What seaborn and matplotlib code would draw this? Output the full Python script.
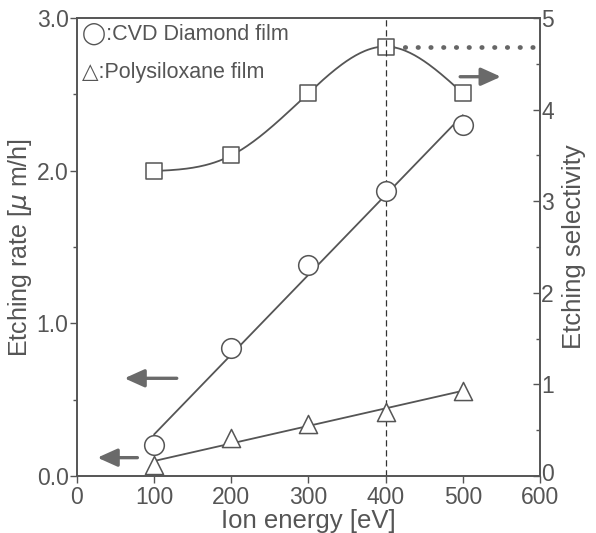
import matplotlib
matplotlib.use("Agg")
import matplotlib.pyplot as plt
import matplotlib.transforms as mtrans
import numpy as np
import pandas as pd
import seaborn as sns

ENERGY = [100, 200, 300, 400, 500]
CVD_RATE = [0.20, 0.84, 1.38, 1.87, 2.30]
POLY_RATE = [0.07, 0.25, 0.34, 0.42, 0.56]
SELECTIVITY = [3.33, 3.50, 4.18, 4.69, 4.18]
PEAK_ENERGY = 400
PEAK_SEL = 4.69

INK = "#555555"
ARROW = "#6a6a6a"


def natural_spline(x, y, xs):
    x = np.asarray(x, float)
    y = np.asarray(y, float)
    n = len(x)
    h = np.diff(x)
    A = np.zeros((n, n))
    b = np.zeros(n)
    A[0, 0] = A[-1, -1] = 1
    for i in range(1, n - 1):
        A[i, i - 1] = h[i - 1]
        A[i, i] = 2 * (h[i - 1] + h[i])
        A[i, i + 1] = h[i]
        b[i] = 6 * ((y[i + 1] - y[i]) / h[i] - (y[i] - y[i - 1]) / h[i - 1])
    m = np.linalg.solve(A, b)
    out = np.empty_like(xs, dtype=float)
    for k, xv in enumerate(xs):
        i = min(np.searchsorted(x, xv) - 1, n - 2)
        i = max(i, 0)
        t0, t1 = x[i + 1] - xv, xv - x[i]
        out[k] = (m[i] * t0 ** 3 + m[i + 1] * t1 ** 3) / (6 * h[i]) \
            + (y[i] / h[i] - m[i] * h[i] / 6) * t0 \
            + (y[i + 1] / h[i] - m[i + 1] * h[i] / 6) * t1
    return out


sns.set_theme(style="ticks")
plt.rcParams["font.family"] = ["Liberation Sans", "DejaVu Sans"]

df = pd.DataFrame({"energy": ENERGY, "cvd": CVD_RATE, "poly": POLY_RATE, "sel": SELECTIVITY})

fig = plt.figure(figsize=(5.96, 5.33), dpi=100)
ax = fig.add_axes([0.129, 0.107, 0.777, 0.859])
ax2 = ax.twinx()

# linear fits for the etching rate
xfit = np.array([ENERGY[0], ENERGY[-1]], float)
for col in ["cvd", "poly"]:
    k, c = np.polyfit(df["energy"], df[col], 1)
    sns.lineplot(x=xfit, y=k * xfit + c, color=INK, linewidth=1.3, ax=ax)

sns.scatterplot(data=df, x="energy", y="cvd", marker="o", s=200, facecolor="white",
                edgecolor=INK, linewidth=1.1, ax=ax, zorder=5)
sns.scatterplot(data=df, x="energy", y="poly", marker="^", s=170, facecolor="white",
                edgecolor=INK, linewidth=1.1, ax=ax, zorder=5)

# selectivity curve
xs = np.linspace(ENERGY[0], ENERGY[-1], 200)
sns.lineplot(x=xs, y=natural_spline(ENERGY, SELECTIVITY, xs), color=INK, linewidth=1.3, ax=ax2)
sns.scatterplot(data=df, x="energy", y="sel", marker="s", s=140, facecolor="white",
                edgecolor=INK, linewidth=1.1, ax=ax2, zorder=5)
ax2.plot([PEAK_ENERGY + 8, 600], [PEAK_SEL, PEAK_SEL], linestyle=(0, (0.1, 2.6)),
         color="#666666", linewidth=3.4, dash_capstyle="round")
ax.axvline(PEAK_ENERGY, color="#333333", linestyle=(0, (5, 3)), linewidth=0.9, zorder=1)

ax.set_xlim(0, 600)
ax.set_ylim(0, 3.0)
ax2.set_ylim(0, 5)
ax.set_xticks(range(0, 601, 100))
ax.set_yticks([0, 1, 2, 3])
ax.set_yticklabels(["0.0", "1.0", "2.0", "3.0"])
ax.set_yticks([0.5, 1.5, 2.5], minor=True)
ax2.set_yticks(range(0, 6))
ax2.set_yticks(np.arange(0.5, 5, 1.0), minor=True)

ax.tick_params(axis="y", which="major", direction="out", length=5, width=1,
               color=INK, labelcolor=INK, labelsize=16.5, pad=1)
ax.tick_params(axis="x", which="major", direction="out", length=5, width=1,
               color=INK, labelcolor=INK, labelsize=16.5, pad=2.5)
ax.tick_params(axis="y", which="minor", direction="out", length=3, color=INK)
ax2.tick_params(axis="y", which="major", direction="in", length=5, width=1,
                color=INK, labelcolor=INK, labelsize=16.5, pad=1)
ax2.tick_params(axis="y", which="minor", direction="in", length=3, color=INK)

# lift the right-hand "0" a touch so it sits clear of the "600" below it
zero_lbl = ax2.get_yticklabels()[0]
zero_lbl.set_transform(zero_lbl.get_transform()
                       + mtrans.ScaledTranslation(0, 3 / 72, fig.dpi_scale_trans))

for a in (ax, ax2):
    for sp in a.spines.values():
        sp.set_color(INK)
        sp.set_linewidth(1.2)

ax.set_xlabel("Ion energy [eV]", fontsize=18.5, color=INK, labelpad=0)
ax.set_ylabel("Etching rate [$\\mu$ m/h]", fontsize=18, color=INK, labelpad=2)
ax2.set_ylabel("Etching selectivity", fontsize=18.5, color=INK, labelpad=6)

ax.text(0.012, 0.99, "◯:CVD Diamond film", transform=ax.transAxes, ha="left", va="top",
        fontsize=15.5, color=INK)
ax.text(0.012, 0.905, "△:Polysiloxane film", transform=ax.transAxes, ha="left", va="top",
        fontsize=15.5, color=INK)

arrow_kw = dict(arrowstyle="-|>,head_length=1.0,head_width=0.45", color=ARROW, lw=2.4)
ax.annotate("", xy=(58, 0.64), xytext=(133, 0.64), arrowprops=arrow_kw)
ax.annotate("", xy=(23, 0.12), xytext=(82, 0.12), arrowprops=arrow_kw)
ax2.annotate("", xy=(553, 4.36), xytext=(493, 4.36), arrowprops=arrow_kw)

ax.set_zorder(ax2.get_zorder() + 1)
ax.patch.set_visible(False)

fig.savefig("out.png", dpi=100)
